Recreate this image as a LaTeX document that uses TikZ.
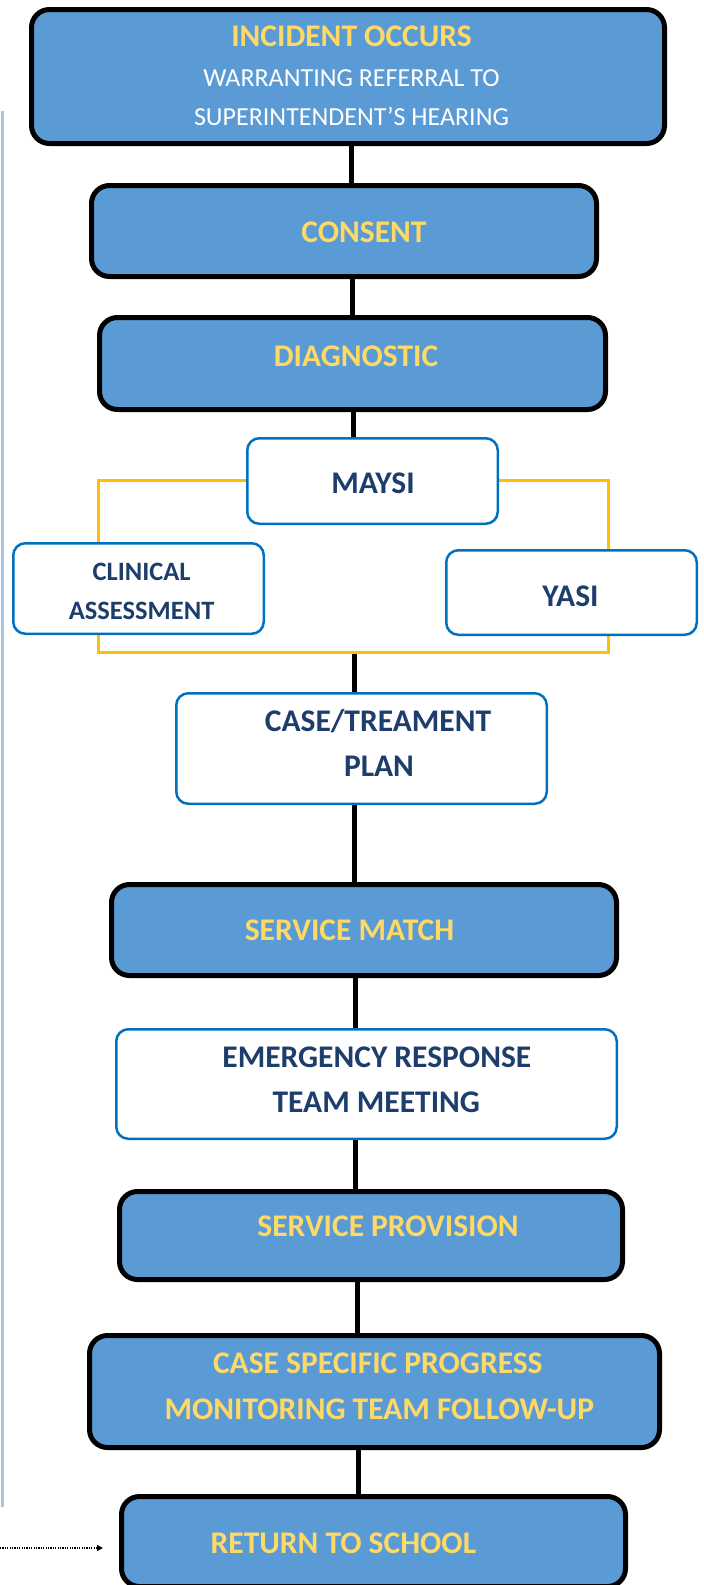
\documentclass[tikz,border=0pt]{standalone}
\usepackage{fontspec}
\setmainfont{Carlito}
\usetikzlibrary{arrows.meta}
\definecolor{boxblue}{HTML}{5B9BD5}
\definecolor{ytext}{HTML}{FFD966}
\definecolor{navy}{HTML}{1D3D6C}
\definecolor{lborder}{HTML}{0070C0}
\definecolor{frameyellow}{HTML}{FFC000}
\definecolor{sidebar}{HTML}{A9C4E5}
\tikzset{
 darkbox/.style={draw=black, line width=5pt, fill=boxblue, rounded corners=18pt, inner sep=0pt},
 lightbox/.style={draw=lborder, line width=2.5pt, fill=white, rounded corners=12pt, inner sep=0pt},
 framebox/.style={draw=frameyellow, line width=3pt, inner sep=0pt},
 conn/.style={draw=black, line width=5pt},
 ytxt/.style={text=ytext, font=\fontsize{31.5}{38}\selectfont\bfseries, anchor=base, inner sep=0pt},
 wtxt/.style={text=white, font=\fontsize{26}{31}\selectfont, anchor=base, inner sep=0pt},
 ntxt/.style={text=navy, font=\fontsize{31.5}{38}\selectfont\bfseries, anchor=base, inner sep=0pt},
 nstxt/.style={text=navy, font=\fontsize{26.5}{32}\selectfont\bfseries, anchor=base, inner sep=0pt},
}
\begin{document}
\begin{tikzpicture}[x=1pt,y=-1pt]
\useasboundingbox (0,0) rectangle (704,1585);
\clip (0,0) rectangle (704,1585);
% side bar
\coordinate (sb1) at (2,111);
\coordinate (sb2) at (2,1507);
\draw[sidebar, line width=3pt] (sb1) -- (sb2);
% connector x positions
\coordinate (x1) at (351.5,0);
\coordinate (x2) at (352,0);
\coordinate (x3) at (353,0);
\coordinate (x4) at (354,0);
\coordinate (x5) at (355,0);
\coordinate (x6) at (357,0);
\coordinate (x7) at (358,0);
% yellow frame
\node[framebox, minimum width=510pt, minimum height=172pt] (frame) at (353.5,566.5) {};
% boxes
\node[darkbox, minimum width=633pt, minimum height=134pt] (incident) at (348,76.5) {};
\node[darkbox, minimum width=505pt, minimum height=91pt] (consent) at (344,231) {};
\node[darkbox, minimum width=506pt, minimum height=92pt] (diag) at (352.5,363.5) {};
\node[lightbox, minimum width=250.5pt, minimum height=85.5pt] (maysi) at (372.5,481) {};
\node[lightbox, minimum width=250.5pt, minimum height=90.5pt] (clinical) at (138.5,588.5) {};
\node[lightbox, minimum width=250.5pt, minimum height=84.5pt] (yasi) at (571.5,592.5) {};
\node[lightbox, minimum width=370.5pt, minimum height=110.5pt] (plan) at (361.5,748.5) {};
\node[darkbox, minimum width=505pt, minimum height=91pt] (match) at (364,930) {};
\node[lightbox, minimum width=500.5pt, minimum height=109.5pt] (emerg) at (366.5,1084) {};
\node[darkbox, minimum width=503pt, minimum height=88pt] (prov) at (371,1235.5) {};
\node[darkbox, minimum width=570pt, minimum height=112pt] (casespec) at (374.5,1391.5) {};
\node[darkbox, minimum width=504pt, minimum height=90pt] (return) at (373.5,1541.5) {};
% connectors
\draw[conn] (incident.south -| x1) -- (consent.north -| x1);
\draw[conn] (consent.south -| x2) -- (diag.north -| x2);
\draw[conn] (diag.south -| x3) -- (maysi.north -| x3);
\draw[conn] (frame.south -| x4) -- (plan.north -| x4);
\draw[conn] (plan.south -| x4) -- (match.north -| x4);
\draw[conn] (match.south -| x5) -- (emerg.north -| x5);
\draw[conn] (emerg.south -| x5) -- (prov.north -| x5);
\draw[conn] (prov.south -| x6) -- (casespec.north -| x6);
\draw[conn] (casespec.south -| x7) -- (return.north -| x7);
% dotted arrow
\coordinate (a1) at (0,1548);
\coordinate (a2) at (103,1548);
\draw[black, line width=1.6pt, dash pattern=on 1.2pt off 1.2pt, -{Triangle[length=6pt,width=6pt]}] (a1) -- (a2);
% texts
\node[ytxt] (t1) at (351.5,46.5) {INCIDENT OCCURS};
\node[wtxt] (t2) at (351.5,86.4) {WARRANTING REFERRAL TO};
\node[wtxt] (t3) at (351.5,125.7) {SUPERINTENDENT’S HEARING};
\node[ytxt] (t4) at (364,242.7) {CONSENT};
\node[ytxt] (t5) at (356,366.1) {DIAGNOSTIC};
\node[ntxt] (t6) at (373,493.6) {MAYSI};
\node[nstxt] (t7) at (141.6,580) {CLINICAL};
\node[nstxt] (t8) at (141.6,619.5) {ASSESSMENT};
\node[ntxt] (t9) at (570.5,606.1) {YASI};
\node[ntxt] (t10) at (378,731.1) {CASE/TREAMENT};
\node[ntxt] (t11) at (379,776.8) {PLAN};
\node[ytxt] (t12) at (349.5,940.7) {SERVICE MATCH};
\node[ntxt] (t13) at (376.8,1067.1) {EMERGENCY RESPONSE};
\node[ntxt] (t14) at (376.3,1112.6) {TEAM MEETING};
\node[ytxt] (t15) at (388,1236.1) {SERVICE PROVISION};
\node[ytxt] (t16) at (377.8,1373.6) {CASE SPECIFIC PROGRESS};
\node[ytxt] (t17) at (379.3,1419.1) {MONITORING TEAM FOLLOW-UP};
\node[ytxt] (t18) at (343.4,1553.7) {RETURN TO SCHOOL};
\end{tikzpicture}
\end{document}
